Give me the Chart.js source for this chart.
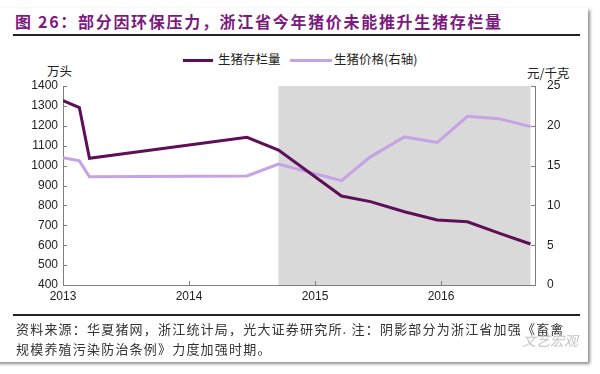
<!DOCTYPE html>
<html>
<head>
<meta charset="utf-8">
<script src="https://cdn.jsdelivr.net/npm/chart.js@4.4.0/dist/chart.umd.min.js"></script>
<style>
body{margin:0;width:600px;height:374px;overflow:hidden;background:#fff;font-family:"Noto Sans CJK SC","Liberation Sans",sans-serif;}
#card{position:absolute;left:-4px;top:8px;width:592px;height:354px;background:#fff;box-shadow:2px 2px 3px #8c8c8c;}
.abs{position:absolute;white-space:nowrap;}
#title{left:15px;top:11px;font-size:16px;line-height:20px;font-weight:bold;color:#7d1a80;letter-spacing:1.7px;}
.rule{position:absolute;left:13px;width:567px;height:2px;background:#222;}
.leg{font-size:12.5px;line-height:16px;color:#222;}
.swatch{position:absolute;height:3px;}
.note{left:16px;font-size:13px;line-height:18px;color:#333;letter-spacing:1.2px;}
#wm{left:522px;top:330px;font-size:14px;color:#c4c4c4;font-style:italic;}
#chart{position:absolute;left:0;top:0;}
</style>
</head>
<body>
<div id="card"></div>
<div class="abs" id="title">图 26：部分因环保压力，浙江省今年猪价未能推升生猪存栏量</div>
<div class="rule" style="top:34px"></div>
<div class="swatch" style="left:183px;top:59px;width:30px;background:#5e0f58"></div>
<div class="abs leg" style="left:218px;top:51px">生猪存栏量</div>
<div class="swatch" style="left:290px;top:59px;width:42px;background:#c6a2e6"></div>
<div class="abs leg" style="left:334px;top:51px">生猪价格(右轴)</div>
<div class="abs leg" style="left:47px;top:63px">万头</div>
<div class="abs leg" style="left:527px;top:65px">元/千克</div>
<canvas id="chart" width="600" height="374"></canvas>
<div class="rule" style="top:314px"></div>
<div class="abs note" style="top:320px">资料来源：华夏猪网，浙江统计局，光大证券研究所. 注：阴影部分为浙江省加强《畜禽</div>
<div class="abs note" style="top:340px">规模养殖污染防治条例》力度加强时期。</div>
<div class="abs" id="wm">文艺宏观</div>
<script>
// dates as decimal years
var dates=[2013.0,2013.13,2013.21,2014.46,2014.71,2015.21,2015.44,2015.71,2015.97,2016.21,2016.46,2016.71];
var stock=[1326,1291,1037,1142,1078,847,819,768,727,718,661,606];
var price=[16.0,15.6,13.6,13.7,15.2,13.1,16.1,18.6,17.9,21.2,20.9,19.9];
var yearTicks=[2013,2014,2015,2016];
var shadeRange=[2014.71,2016.71];

function pts(vals){
    var out=[];
    for(var i in vals){ out.push({x:dates[i],y:vals[i]}); }
    return out;
}

var shade={
    id:'shade',
    beforeDraw:function(c){
        var a=c.chartArea, x=c.scales.x, ctx=c.ctx;
        var x0=x.getPixelForValue(shadeRange[0]), x1=x.getPixelForValue(shadeRange[1]);
        ctx.save();
        ctx.fillStyle='#d9d9d9';
        ctx.fillRect(x0,a.top,x1-x0,a.bottom-a.top);
        ctx.restore();
    }
};

// small tick marks pointing into the plot
var innerTicks={
    id:'innerTicks',
    afterDraw:function(c){
        var ctx=c.ctx, a=c.chartArea, s=c.scales;
        ctx.save();
        ctx.strokeStyle='#7f7f7f';
        ctx.lineWidth=1;
        ctx.beginPath();
        s.y.ticks.forEach(function(t){
            var p=Math.round(s.y.getPixelForValue(t.value))+0.5;
            ctx.moveTo(a.left,p); ctx.lineTo(a.left+4,p);
        });
        s.y1.ticks.forEach(function(t){
            var p=Math.round(s.y1.getPixelForValue(t.value))+0.5;
            ctx.moveTo(a.right,p); ctx.lineTo(a.right-4,p);
        });
        yearTicks.forEach(function(v){
            var p=Math.round(s.x.getPixelForValue(v))+0.5;
            ctx.moveTo(p,a.bottom); ctx.lineTo(p,a.bottom-4);
        });
        ctx.stroke();
        ctx.restore();
    }
};

var tickFont={family:'"Liberation Sans", Arial, sans-serif',size:12};
function plain(v){ return String(v); }

new Chart(document.getElementById('chart'),{
    type:'line',
    data:{
        datasets:[{
            label:'生猪存栏量',
            data:pts(stock),
            yAxisID:'y',
            borderColor:'#5e0f58',
            borderWidth:3,
            pointRadius:0,
            tension:0
        },{
            label:'生猪价格(右轴)',
            data:pts(price),
            yAxisID:'y1',
            borderColor:'#c6a2e6',
            borderWidth:3,
            pointRadius:0,
            tension:0
        }]
    },
    options:{
        responsive:false,
        animation:false,
        layout:{padding:{top:86,left:0,right:0,bottom:0}},
        plugins:{legend:{display:false},tooltip:{enabled:false}},
        scales:{
            x:{
                type:'linear',
                min:2013,max:2016.746,
                afterFit:function(s){s.height=89;},
                grid:{drawOnChartArea:false,drawTicks:false},
                border:{color:'#7f7f7f',width:1},
                ticks:{
                    stepSize:1,autoSkip:false,maxRotation:0,padding:4,
                    color:'#222',font:tickFont,
                    callback:function(v){ return yearTicks.indexOf(v)>=0 ? String(v) : ''; }
                }
            },
            y:{
                position:'left',
                min:400,max:1400,
                afterFit:function(s){s.width=63;},
                grid:{drawOnChartArea:false,drawTicks:false},
                border:{color:'#7f7f7f',width:1},
                ticks:{stepSize:100,padding:5,color:'#222',font:tickFont,callback:plain}
            },
            y1:{
                position:'right',
                min:0,max:25,
                afterFit:function(s){s.width=65;},
                grid:{drawOnChartArea:false,drawTicks:false},
                border:{color:'#7f7f7f',width:1},
                ticks:{stepSize:5,padding:12,color:'#222',font:tickFont,callback:plain}
            }
        }
    },
    plugins:[shade,innerTicks]
});
</script>
</body>
</html>
